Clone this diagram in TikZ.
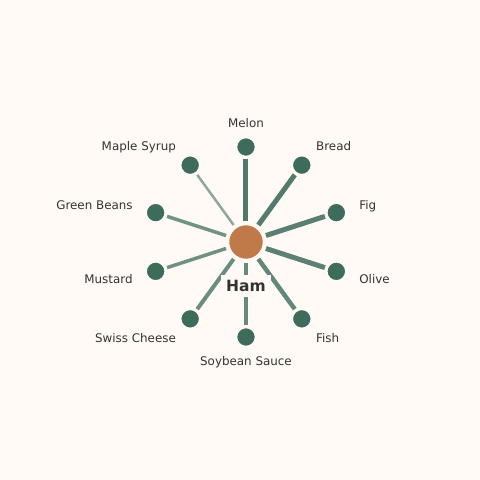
\documentclass[tikz,border=0pt]{standalone}
\usepackage{fontspec}
\setmainfont{DejaVu Sans}
\usetikzlibrary{calc}
\definecolor{bg}{HTML}{FFFAF6}
\definecolor{leaf}{HTML}{3D6B5C}
\definecolor{ham}{HTML}{C07A4A}
\definecolor{ink}{HTML}{333333}

\begin{document}
\begin{tikzpicture}[x=1pt,y=1pt,
  hub/.style={circle,fill=ham,draw=bg,line width=1.5pt,minimum size=35pt,inner sep=0pt},
  leafnode/.style={circle,fill=leaf,draw=bg,line width=1.5pt,minimum size=19pt,inner sep=0pt},
  leaftext/.style={text=ink,font=\fontsize{11.9}{14}\selectfont,inner sep=0pt,text height=9.5pt,text depth=0.5pt},
  spoke/.style={draw=leaf,line cap=butt}]
\fill[bg] (-246,-238) rectangle (234,242);
\node[hub] (ham) at (0,0) {};
% spokes, thickest first
\foreach \a/\name/\txt/\anc/\w/\op in {90/melon/Melon/center/5/0.9,
  54/bread/Bread/west/5/0.88, 18/fig/Fig/west/5/0.86, -18/olive/Olive/west/5/0.84,
  -54/fish/Fish/west/4.5/0.8, -90/soybean/Soybean Sauce/center/4/0.78,
  -126/swiss/Swiss Cheese/east/4/0.76, -162/mustard/Mustard/east/3.5/0.74,
  162/greenbeans/Green Beans/east/3.5/0.72, 126/maple/Maple Syrup/east/2.5/0.58}
{
  \node[leafnode] (\name) at (\a:95) {};
  \node[leaftext,anchor=\anc] (\name-l) at (\a:119) {\txt};
  \draw[spoke,line width=\w pt,draw opacity=\op] ($(ham)!21pt!(\name)$) -- ($(\name)!12pt!(ham)$);
}
\node[font=\fontsize{15.5}{18}\selectfont\bfseries,text=ink,fill=bg,inner sep=5pt] (hamlabel) at (0,-44) {Ham};
\end{tikzpicture}
\end{document}
